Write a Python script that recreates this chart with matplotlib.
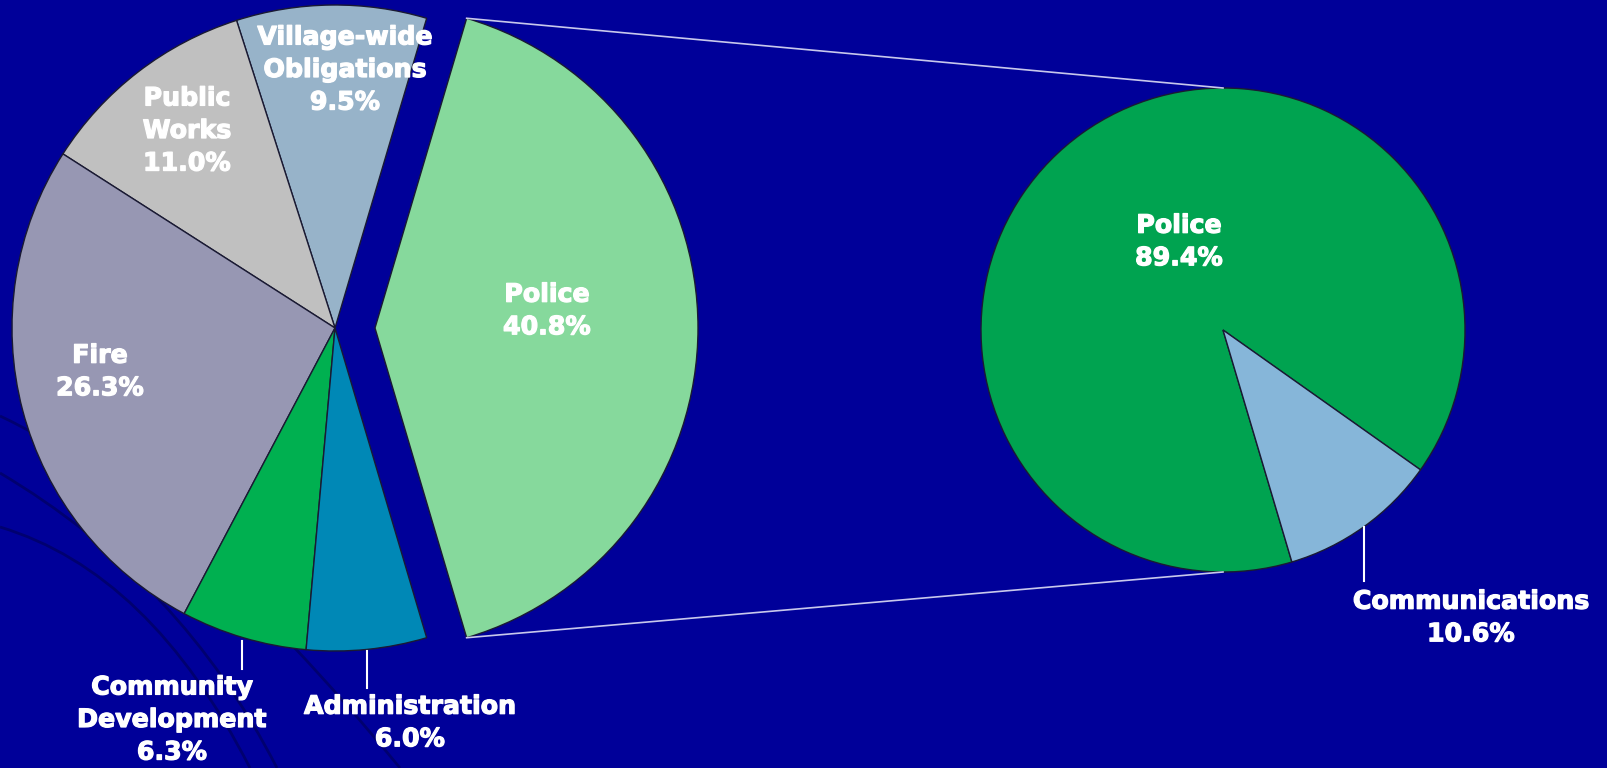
import matplotlib
matplotlib.use("Agg")
import matplotlib.pyplot as plt
import matplotlib.patheffects as pe
import numpy as np
from matplotlib.path import Path
from matplotlib.patches import PathPatch

# ---------------- data ----------------
main_labels = ["Police", "Village-wide\nObligations", "Public\nWorks", "Fire",
               "Community\nDevelopment", "Administration"]
main_values = [40.8, 9.5, 11.0, 26.3, 6.3, 6.0]
main_colors = ["#86D99C", "#97B3C9", "#C0C0C0", "#9797B3", "#00B050", "#0088B6"]

sub_labels = ["Police", "Communications"]
sub_values = [89.4, 10.6]
sub_colors = ["#00A350", "#86B6D9"]

# ---------------- layout ----------------
W, H = 1608, 768
BG = "#000099"
fig = plt.figure(figsize=(W / 100, H / 100), dpi=100)
fig.patch.set_facecolor(BG)
ax = fig.add_axes([0, 0, 1, 1])
ax.set_facecolor(BG)

def img(x, y):
    return x, H - y

# decorative background arcs (template swooshes)
arcs = [
    [(0, 416), (180, 500), (400, 768)],
    [(0, 473), (181, 580), (277, 768)],
    [(0, 527), (150, 572), (250, 768)],
]
for a in arcs:
    verts = [img(*p) for p in a]
    pp = PathPatch(Path(verts, [Path.MOVETO, Path.CURVE3, Path.CURVE3]),
                   fill=False, edgecolor="#000070", lw=2.0, zorder=0)
    ax.add_patch(pp)

# main pie
c1 = img(335, 328)
r1 = 323
expl = 40  # data units (pixels)
total1 = sum(main_values)
start1 = -0.5 * 360 * main_values[0] / total1
ax.pie(main_values, colors=main_colors, startangle=start1, counterclock=True,
       explode=[expl] + [0] * (len(main_values) - 1), center=c1, radius=r1,
       wedgeprops=dict(edgecolor="#1a1a33", linewidth=1.0), frame=True)

# sub pie
c2 = img(1223, 330)
r2 = 242
ax.pie(sub_values, colors=sub_colors, startangle=-35.3, counterclock=True,
       center=c2, radius=r2,
       wedgeprops=dict(edgecolor="#1a1a33", linewidth=1.0), frame=True)

ax.set_xlim(0, W)
ax.set_ylim(0, H)
ax.set_aspect("equal")
ax.axis("off")

# connector lines from exploded Police wedge to sub pie
half = np.deg2rad(0.5 * 360 * main_values[0] / total1)
vx = c1[0] + expl
vy = c1[1]
top = (vx + r1 * np.cos(half), vy + r1 * np.sin(half))
bot = (vx + r1 * np.cos(half), vy - r1 * np.sin(half))
ax.plot([top[0], c2[0]], [top[1], c2[1] + r2], color="#C8C8EC", lw=1.2, zorder=1)
ax.plot([bot[0], c2[0]], [bot[1], c2[1] - r2], color="#C8C8EC", lw=1.2, zorder=1)

# labels
fs = 18.2
lsp = 1.45
stroke = [pe.withStroke(linewidth=0.9, foreground="white")]
main_text_pos = [(547, 311), (345, 70), (187, 131), (100, 372), (172, 720), (410, 723)]
for lab, val, pos in zip(main_labels, main_values, main_text_pos):
    ax.text(*img(*pos), f"{lab}\n{val:.1f}%", color="white", fontsize=fs,
            fontweight="bold", ha="center", va="center", linespacing=lsp,
            path_effects=stroke, zorder=5)

sub_text_pos = [(1179, 242), (1471, 618)]
for lab, val, pos in zip(sub_labels, sub_values, sub_text_pos):
    ax.text(*img(*pos), f"{lab}\n{val:.1f}%", color="white", fontsize=fs,
            fontweight="bold", ha="center", va="center", linespacing=lsp,
            path_effects=stroke, zorder=5)

# leader lines
leaders = [((242, 641), (242, 669)), ((367, 651), (367, 688)), ((1364, 527), (1364, 581))]
for p, q in leaders:
    ax.plot([img(*p)[0], img(*q)[0]], [img(*p)[1], img(*q)[1]], color="white", lw=1.5, zorder=4)

fig.savefig("out.png", dpi=100, facecolor=BG)
